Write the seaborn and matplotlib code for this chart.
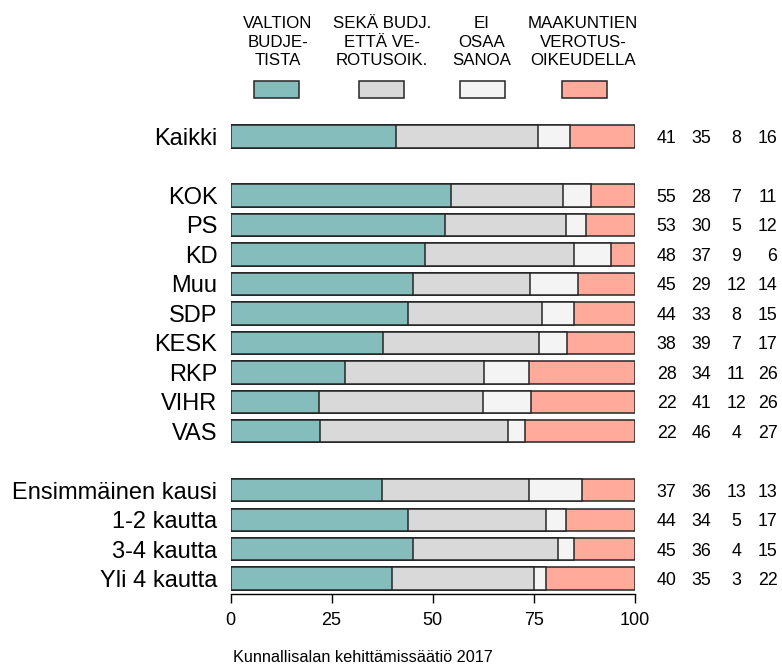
import numpy as np
import pandas as pd
import matplotlib
matplotlib.use('Agg')
import matplotlib.pyplot as plt
from matplotlib import font_manager
from matplotlib.patches import Rectangle
import seaborn as sns

# ============= DATA =============
groups = ['Kaikki', 'KOK', 'PS', 'KD', 'Muu', 'SDP', 'KESK', 'RKP', 'VIHR', 'VAS',
          'Ensimmäinen kausi', '1-2 kautta', '3-4 kautta', 'Yli 4 kautta']
# row slots, the skipped slots make the gaps between blocks
slots = [0, 2, 3, 4, 5, 6, 7, 8, 9, 10, 12, 13, 14, 15]
valtion = [41, 55, 53, 48, 45, 44, 38, 28, 22, 22, 37, 44, 45, 40]
molemmat = [35, 28, 30, 37, 29, 33, 39, 34, 41, 46, 36, 34, 36, 35]
eos = [8, 7, 5, 9, 12, 8, 7, 11, 12, 4, 13, 5, 4, 3]
maakunta = [16, 11, 12, 6, 14, 15, 17, 26, 26, 27, 13, 17, 15, 22]
legend_labels = ['VALTION\nBUDJE-\nTISTA', 'SEKÄ BUDJ.\nETTÄ VE-\nROTUSOIK.',
                 'EI\nOSAA\nSANOA', 'MAAKUNTIEN\nVEROTUS-\nOIKEUDELLA']
source = 'Kunnallisalan kehittämissäätiö 2017'

colors = ['#85BDBD', '#D9D9D9', '#F4F4F4', '#FFAA9A']
edge = '#262626'
ink = '#000000'

sns.set_theme(style='white')
plt.rcParams['font.family'] = ['Liberation Sans', 'DejaVu Sans']
plt.rcParams['text.color'] = ink
plt.rcParams['xtick.color'] = ink
plt.rcParams['ytick.color'] = ink

try:
    font_manager.findfont('Liberation Sans Narrow', fallback_to_default=False)
    narrow = 'Liberation Sans Narrow'
    legend_size = 14.5
except ValueError:
    narrow = 'Liberation Sans'
    legend_size = 12.2

df = pd.DataFrame({'group': groups, 'slot': slots,
                   'v1': valtion, 'v2': molemmat, 'v3': eos, 'v4': maakunta})
vals = df[['v1', 'v2', 'v3', 'v4']].to_numpy(dtype=float)
pct = vals / vals.sum(axis=1, keepdims=True) * 100
cum = np.cumsum(pct, axis=1)

W, H = 782, 666
fig = plt.figure(figsize=(W / 100, H / 100), dpi=100)
ax = fig.add_axes([230.5 / W, 72 / H, 404.5 / W, 475.2 / H])

# draw cumulative bars from the longest down so each segment shows
for k in range(3, -1, -1):
    sns.barplot(x=cum[:, k], y=df['slot'], orient='h', native_scale=True,
                color=colors[k], saturation=1, width=0.76,
                edgecolor=edge, linewidth=1.1, ax=ax)

ax.set_xlim(0, 100)
ax.set_ylim(15.52, -0.6)
ax.set_xticks([0, 25, 50, 75, 100])
ax.set_xticklabels(['0', '25', '50', '75', '100'], fontsize=13)
ax.set_yticks(slots)
ax.set_yticklabels(groups, fontsize=17)
ax.tick_params(axis='y', length=0, pad=9.5)
ax.tick_params(axis='x', length=6.7, width=1, color='black', direction='out', pad=6.5, bottom=True)
ax.set_xlabel('')
ax.set_ylabel('')
for s in ['top', 'right', 'left']:
    ax.spines[s].set_visible(False)
ax.spines['bottom'].set_color('black')
ax.spines['bottom'].set_linewidth(1)

# numbers on the right
col_x = [107.8, 116.4, 125.0, 135.2]
col_ha = ['center', 'center', 'center', 'right']
for i, y in enumerate(slots):
    for j in range(4):
        ax.text(col_x[j], y, str(int(vals[i, j])), ha=col_ha[j], va='center_baseline',
                fontsize=12.8, color=ink, clip_on=False)

# legend at the top
box_x = [254, 359, 460, 562]
text_x = [278, 382, 482, 583]
baselines = [28.3, 46.7, 65.0]
for k in range(4):
    fig.patches.append(Rectangle((box_x[k] / W, 1 - 98 / H), 45 / W, 17 / H,
                                 transform=fig.transFigure, facecolor=colors[k],
                                 edgecolor=edge, linewidth=1.1))
    for line, b in zip(legend_labels[k].split('\n'), baselines):
        fig.text(text_x[k] / W, 1 - b / H, line, ha='center', va='baseline',
                 fontsize=legend_size, family=narrow, color=ink)

fig.text(233 / W, 4.5 / H, source, ha='left', va='baseline', fontsize=11.7, color=ink)

fig.savefig('out.png', dpi=100)
